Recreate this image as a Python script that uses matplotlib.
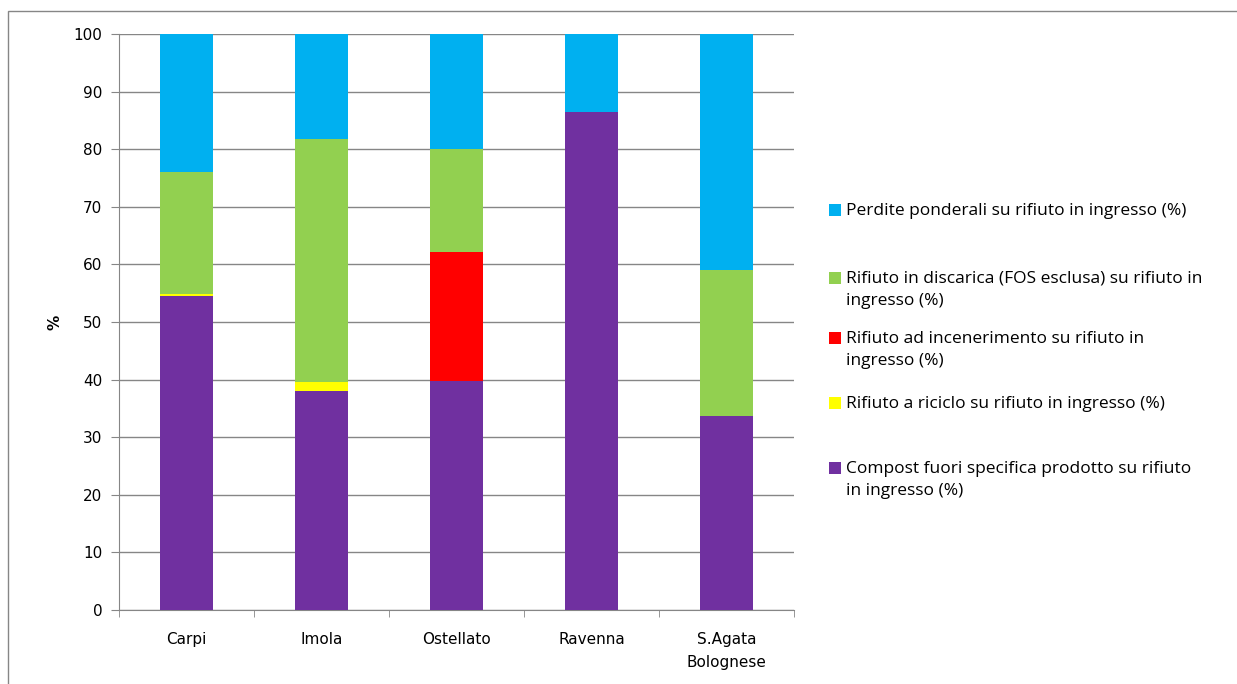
import matplotlib.pyplot as plt
import numpy as np
from matplotlib.patches import Rectangle

# impianti di compostaggio
sites = ["Carpi", "Imola", "Ostellato", "Ravenna", "S.Agata\nBolognese"]

# quote su rifiuto in ingresso (%), dal basso verso l'alto
compost_fs = [54.5, 38.1, 39.8, 86.5, 33.7]
riciclo = [0.4, 1.4, 0.0, 0.0, 0.0]
incenerimento = [0.0, 0.0, 22.3, 0.0, 0.0]
discarica = [21.1, 42.3, 17.9, 0.0, 25.3]
perdite = [24.0, 18.2, 20.0, 13.5, 41.0]

labels = [
    "Compost fuori specifica prodotto su rifiuto\nin ingresso (%)",
    "Rifiuto a riciclo su rifiuto in ingresso (%)",
    "Rifiuto ad incenerimento su rifiuto in\ningresso (%)",
    "Rifiuto in discarica (FOS esclusa) su rifiuto in\ningresso (%)",
    "Perdite ponderali su rifiuto in ingresso (%)",
]
colors = ["#7030A0", "#FFFF00", "#FF0000", "#92D050", "#00B0F0"]
series = [compost_fs, riciclo, incenerimento, discarica, perdite]

W, H = 1237, 684
fig = plt.figure(figsize=(W / 100, H / 100), dpi=100)
ax = fig.add_axes([119 / W, 1 - 610 / H, (794 - 119) / W, (610 - 34) / H])

x = np.arange(len(sites))
bottom = np.zeros(len(sites))
for vals, col in zip(series, colors):
    vals = np.array(vals)
    ax.bar(x, vals, width=0.39, bottom=bottom, color=col,
           edgecolor="none", zorder=3)
    bottom += vals

ax.set_xlim(-0.5, len(sites) - 0.5)
ax.set_ylim(0, 100)
ax.set_yticks(np.arange(0, 101, 10))
ax.set_xticks(x)
ax.set_xticklabels(sites, fontsize=11, family="DejaVu Sans", linespacing=1.65)
ax.tick_params(axis="x", length=0, pad=16)
ax.set_xticks(np.arange(-0.5, len(sites)), minor=True)
ax.tick_params(axis="x", which="minor", length=5, color="#868686", direction="out")
ax.tick_params(axis="y", length=6, color="#868686", labelsize=11, pad=6)
ax.grid(axis="y", color="#868686", linewidth=1.0, zorder=0)
ax.set_axisbelow(True)
for s in ["top", "right"]:
    ax.spines[s].set_visible(False)
for s in ["left", "bottom"]:
    ax.spines[s].set_color("#868686")
ax.set_ylabel("%", fontsize=11, fontweight="bold", labelpad=8)

# legenda in stile Excel (centro della prima riga di ogni voce, in pixel)
leg_y = [210, 278, 338, 403, 468]
for (lab, col), yc in zip(reversed(list(zip(labels, colors))), leg_y):
    fig.patches.append(Rectangle((829 / W, 1 - (yc + 6) / H), 12 / W, 12 / H,
                                 transform=fig.transFigure, facecolor=col,
                                 edgecolor="none"))
    fig.text(846 / W, 1 - (yc - 7) / H, lab, fontsize=12.5,
             family="Open Sans", va="top", ha="left", linespacing=1.5,
             color="#000000")

# cornice dell'area grafico
fig.patches.append(Rectangle((8 / W, -0.1), 1.2, 1 - 11 / H + 0.1,
                             transform=fig.transFigure, facecolor="none",
                             edgecolor="#868686", linewidth=1.0))

fig.savefig("out.png", dpi=100)
